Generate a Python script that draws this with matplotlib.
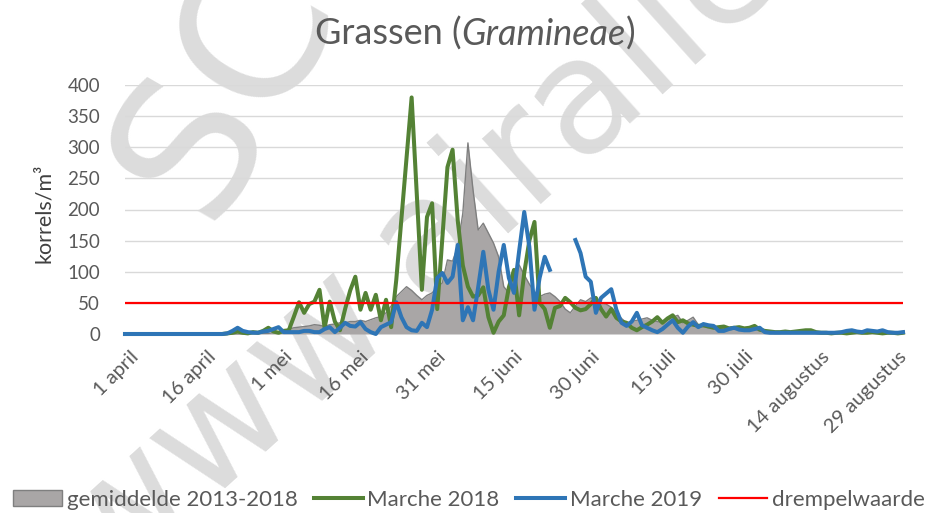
import matplotlib
matplotlib.use("Agg")
import matplotlib.pyplot as plt
import numpy as np
from matplotlib.lines import Line2D
from matplotlib.patches import Patch
from matplotlib.transforms import ScaledTranslation

nan = np.nan

# dagen vanaf 1 april (index 0) t/m 31 augustus (index 152)
tick_days = [0, 15, 30, 45, 60, 75, 90, 105, 120, 135, 150]
tick_labels = ["1 april", "16 april", "1 mei", "16 mei", "31 mei", "15 juni",
               "30 juni", "15 juli", "30 juli", "14 augustus", "29 augustus"]
y_ticks = [0, 50, 100, 150, 200, 250, 300, 350, 400]

avg_2013_2018 = [
    0, 0, 0, 0, 0, 0, 0, 0, 0, 0,
    0, 0, 0, 0, 0, 0, 0, 0, 0, 0,
    0, 0, 0, 0, 0, 1, 1, 1, 1, 2,
    3, 5, 8, 10, 11, 12, 13, 15, 14, 12,
    15, 16, 18, 18, 20, 20, 22, 20, 23, 26,
    28, 34, 45, 60, 68, 76, 70, 62, 55, 62,
    66, 75, 82, 119, 117, 140, 194, 307, 231, 167,
    178, 162, 146, 124, 76, 66, 95, 111, 95, 80,
    68, 60, 64, 66, 60, 52, 40, 34, 45, 55,
    52, 58, 55, 51, 48, 43, 34, 25, 18, 20,
    22, 24, 26, 22, 20, 18, 22, 27, 30, 18,
    22, 27, 15, 12, 10, 10, 9, 9, 8, 8,
    9, 8, 7, 8, 5, 4, 3, 3, 3, 3,
    2, 3, 2, 2, 2, 3, 2, 2, 2, 2,
    2, 2, 3, 2, 2, 2, 2, 2, 2, 2,
    2, 2, 2,
]

marche_2018 = [
    0, 0, 0, 0, 0, 0, 0, 0, 0, 0,
    0, 0, 0, 0, 0, 0, 0, 0, 0, 0,
    1, 2, 4, 2, 1, 3, 2, 5, 10, 4,
    2, 5, 6, 28, 51, 34, 48, 52, 71, 10,
    52, 20, 6, 40, 70, 92, 39, 66, 39, 63,
    22, 55, 11, 87, 185, 285, 380, 225, 71, 188,
    210, 40, 155, 268, 296, 183, 110, 76, 60, 62,
    75, 27, 2, 20, 30, 75, 103, 30, 98, 150,
    180, 50, 40, 10, 42, 45, 58, 51, 42, 38,
    40, 48, 58, 40, 28, 40, 26, 20, 18, 10,
    6, 11, 15, 20, 27, 18, 25, 30, 19, 22,
    17, 15, 13, 14, 12, 10, 11, 12, 9, 10,
    11, 9, 10, 13, 7, 5, 4, 3, 3, 4,
    3, 4, 5, 6, 6, 3, 2, 2, 1, 2,
    2, 1, 2, 3, 2, 2, 3, 2, 1, 2,
    2, 1, 2,
]

marche_2019 = [
    0, 0, 0, 0, 0, 0, 0, 0, 0, 0,
    0, 0, 0, 0, 0, 0, 0, 0, 0, 0,
    1, 5, 10, 5, 3, 2, 2, 4, 5, 8,
    11, 3, 3, 3, 3, 5, 5, 3, 3, 8,
    11, 3, 10, 18, 13, 12, 19, 8, 3, 0,
    11, 15, 19, 51, 27, 11, 6, 5, 18, 11,
    39, 90, 98, 82, 92, 143, 22, 43, 22, 75,
    132, 71, 39, 100, 143, 90, 66, 133, 196, 140,
    39, 90, 124, 103, nan, nan, nan, nan, 151, 130,
    92, 84, 34, 58, 65, 72, 39, 18, 13, 20,
    34, 14, 10, 6, 3, 8, 15, 22, 10, 2,
    12, 19, 11, 16, 14, 13, 5, 5, 8, 10,
    7, 6, 6, 8, 10, 3, 2, 2, 2, 2,
    2, 2, 2, 2, 2, 2, 2, 2, 2, 2,
    3, 5, 6, 4, 3, 6, 5, 4, 6, 3,
    2, 2, 3,
]

drempelwaarde = 50

TEXT = "#595959"
GRID = "#d9d9d9"
FONT = ["Lato", "DejaVu Sans"]
plt.rcParams["font.family"] = FONT

days = np.arange(len(avg_2013_2018))

fig = plt.figure(figsize=(9.31, 5.13), dpi=100)
W, H = 931, 513

# watermerk
fig.text(208 / W, 1 - 225 / H, "SCIENSANO", rotation=60, rotation_mode="anchor",
         ha="left", va="baseline", fontsize=140, color="#dcdcdc", zorder=-5,
         family="DejaVu Sans")
fig.text(105 / W, 1 - 590 / H, "www.airallergy.be", rotation=42, rotation_mode="anchor",
         ha="left", va="baseline", fontsize=115, color="#dcdcdc", zorder=-5,
         family="DejaVu Sans")

ax = fig.add_axes([125 / W, 179 / H, 778 / W, 249 / H])
ax.patch.set_visible(False)

ax.fill_between(days, avg_2013_2018, color="#a9a6a6", zorder=2, lw=0)
ax.plot(days, avg_2013_2018, color="#7f7f7f", lw=1.0, zorder=2.1, clip_on=False)
ax.plot(days, marche_2018, color="#548235", lw=2.9, zorder=3,
        solid_joinstyle="round", clip_on=False)
ax.plot(days, marche_2019, color="#2e75b6", lw=2.9, zorder=4,
        solid_joinstyle="round", clip_on=False)
ax.axhline(drempelwaarde, color="#ff0000", lw=1.6, zorder=5)

ax.set_xlim(0, len(days) - 1)
ax.set_ylim(0, 400)
ax.set_yticks(y_ticks)
ax.set_xticks(tick_days)
ax.set_xticklabels(tick_labels, rotation=45, ha="right", rotation_mode="anchor")
ax.yaxis.grid(True, color=GRID, lw=1.0, zorder=0)
ax.set_axisbelow(True)
for s in ax.spines.values():
    s.set_visible(False)
ax.tick_params(axis="both", length=0, labelsize=13.5, labelcolor=TEXT)
ax.tick_params(axis="y", pad=18)
ax.tick_params(axis="x", pad=10, labelsize=14.5)
for lab in ax.get_xticklabels():
    lab.set_transform(lab.get_transform() + ScaledTranslation(0.05, 0, fig.dpi_scale_trans))

fig.text(44 / W, 1 - 213 / H, "korrels/m³", rotation=90, ha="center", va="center",
         fontsize=15.5, color="#404040")

# titel met cursieve soortnaam
renderer = fig.canvas.get_renderer()
parts = [("Grassen (", "normal"), ("Gramineae", "italic"), (")", "normal")]
pieces = [fig.text(0, 1 - 45 / H, s, fontsize=26, fontstyle=st, color=TEXT, va="baseline")
          for s, st in parts]
widths = [p.get_window_extent(renderer).width for p in pieces]
x = 475 - sum(widths) / 2
for p, w in zip(pieces, widths):
    p.set_x(x / W)
    x += w

handles = [
    Patch(facecolor="#a9a6a6", edgecolor="#7f7f7f", lw=1.0),
    Line2D([], [], color="#548235", lw=2.9),
    Line2D([], [], color="#2e75b6", lw=2.9),
    Line2D([], [], color="#ff0000", lw=1.6),
]
labels = ["gemiddelde 2013-2018", "Marche 2018", "Marche 2019", "drempelwaarde"]
leg = fig.legend(handles, labels, loc="center", bbox_to_anchor=(469 / W, 1 - 500 / H),
                 ncol=4, frameon=False, fontsize=16, handlelength=2.2, handleheight=0.7,
                 handletextpad=0.2, columnspacing=0.75, borderaxespad=0, borderpad=0)
for t in leg.get_texts():
    t.set_color(TEXT)

fig.savefig("out.png", dpi=100)
